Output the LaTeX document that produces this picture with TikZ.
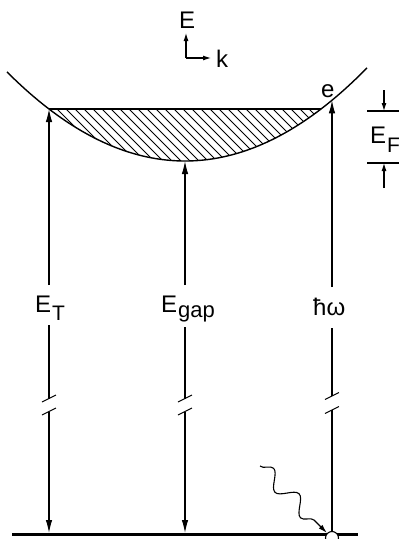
\documentclass[tikz,border=0pt]{standalone}
\usepackage{fontspec}
\setmainfont{Liberation Sans}
\usetikzlibrary{arrows.meta,decorations.pathmorphing}
\begin{document}
\begin{tikzpicture}[x=1pt,y=-1pt,
  ln/.style={line width=1.1pt},
  curve/.style={line width=1.4pt},
  tipend/.style={-{Latex[length=13pt,width=6.5pt]}},
  smalltip/.style={-{Latex[length=8pt,width=5pt]}},
  lab/.style={font=\fontsize{24}{24}\selectfont, inner sep=0pt, anchor=base west},
  hatch/.style={line width=1pt}]
\useasboundingbox (0,0) rectangle (399,539);

% hatched region
\begin{scope}
  \clip plot[domain=49:321, samples=60] (\x, {161-52*((\x-185)/136)^2}) -- cycle;
  \foreach \c in {-60,-51,...,330} \draw[hatch] (\c,100) -- ++(75,75);
\end{scope}

% band
\draw[curve] plot[domain=7:367, samples=80] (\x, {161-52*((\x-185)/136)^2});
\coordinate (fl) at (49,109);
\coordinate (fr) at (321,109);
\draw[curve] (fl) -- (fr);

% coordinates
\coordinate (tT) at (49,109);
\coordinate (tG) at (185,161);
\coordinate (tW) at (332,100.3);
\coordinate (aT1) at (49,285);  \coordinate (aT2) at (49,325);
\coordinate (aG1) at (185,285); \coordinate (aG2) at (185,327);
\coordinate (aW1) at (332,287); \coordinate (aW2) at (332,328);
\coordinate (bT1) at (49,398.5); \coordinate (bT2) at (49,411.5);
\coordinate (bG1) at (185,398.5); \coordinate (bG2) at (185,411.5);
\coordinate (bW1) at (332,396); \coordinate (bW2) at (332,410);
\coordinate (gT) at (49,533);
\coordinate (gG) at (185,533);
\coordinate (bl) at (12,534);
\coordinate (br) at (358,534);

% ground line and photon absorption point
\draw[line width=3pt] (bl) -- (br);
\node[circle, draw, fill=white, line width=1.1pt, minimum size=13pt, inner sep=0pt] (ph) at (332,538) {};

% labels
\node[lab] (lT) at (35,312) {E\hspace{1pt}\raisebox{-8pt}{\fontsize{21}{21}\selectfont T}};
\node[lab] (lG) at (161,312) {E\hspace{1pt}\raisebox{-5pt}{\fontsize{22}{22}\selectfont gap}};
\node[lab] (lW) at (313,315) {ħω};
\node[lab] (le) at (321,97) {e};
\node[lab] (lF) at (370,143) {E\hspace{1pt}\raisebox{-9pt}{\fontsize{21}{21}\selectfont F}};
\node[lab] (lE) at (179,28) {E};
\node[lab] (lk) at (216,67) {k};

% vertical arrows E_T
\draw[ln,tipend] (aT1) -- (tT);
\draw[ln] (aT2) -- (bT1);
\draw[ln,tipend] (bT2) -- (gT);
% E_gap
\draw[ln,tipend] (aG1) -- (tG);
\draw[ln] (aG2) -- (bG1);
\draw[ln,tipend] (bG2) -- (gG);
% hbar omega
\draw[ln,tipend] (aW1) -- (tW);
\draw[ln] (aW2) -- (bW1);
\draw[ln] (bW2) -- (ph);

% break marks
\foreach \p in {bT1,bT2,bG1,bG2,bW1,bW2}
  \draw[ln] ([shift={(-7,3.5)}]\p) -- ([shift={(7,-3.5)}]\p);

% E_F marker
\coordinate (f1a) at (384,90);  \coordinate (f1b) at (384,111);
\coordinate (f2a) at (384,188); \coordinate (f2b) at (384,163);
\coordinate (t1l) at (367,111); \coordinate (t1r) at (399,111);
\coordinate (t2l) at (367,163); \coordinate (t2r) at (399,163);
\draw[ln] (t1l) -- (t1r);
\draw[ln] (t2l) -- (t2r);
\draw[ln,smalltip] (f1a) -- (f1b);
\draw[ln,smalltip] (f2a) -- (f2b);

% axes
\coordinate (o) at (186,58);
\coordinate (ay) at (186,33);
\coordinate (ax) at (211,58);
\draw[ln,smalltip] (o) -- (ay);
\draw[ln,smalltip] (o) -- (ax);

% photon
\coordinate (w0) at (260,466);
\draw[ln, decorate, decoration={snake, segment length=36pt, amplitude=8pt, post length=10pt}, -{Latex[length=9pt,width=5pt]}] (w0) -- (ph);
\end{tikzpicture}
\end{document}
